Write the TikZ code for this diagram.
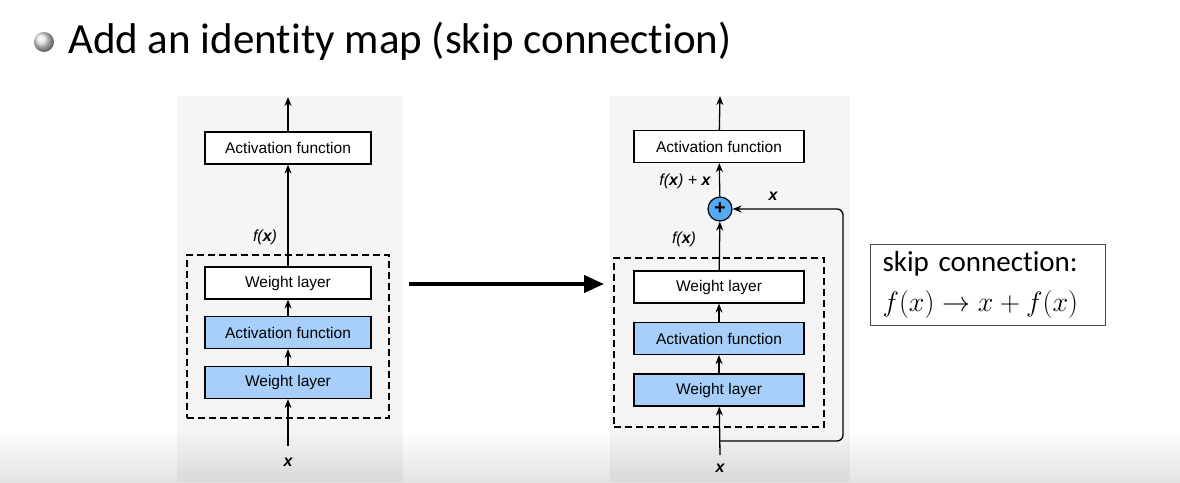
\RequirePackage{fix-cm}
\documentclass[tikz,border=0pt]{standalone}
\usepackage[no-math]{fontspec}
\usepackage{amsmath}
\setmainfont{Liberation Sans}
\newfontfamily\slidefont[Ligatures=CommonOff]{Carlito}
\usetikzlibrary{arrows.meta}
\definecolor{layer-blue}{HTML}{A7CFFA}
\definecolor{plus-blue}{HTML}{55AAF4}
\tikzset{
    layer-box/.style = {draw=black, fill=white, line width=1.2pt, rectangle, minimum width=166pt, minimum height=32pt, inner sep=0pt, font=\fontsize{15.5}{18}\selectfont},
    layer-box-blue/.style = {layer-box, fill=layer-blue},
    group-box/.style = {draw=black, dash pattern=on 7pt off 4pt, line width=1.2pt, rectangle, inner sep=0pt},
    flow/.style = {line width=1.3pt, -{Stealth[length=9pt,width=7pt]}},
    var-label/.style = {inner sep=1pt, font=\fontsize{16}{18}\selectfont\itshape},
    panel/.style = {fill=black, fill opacity=0.04},
}

\begin{document}
\begin{tikzpicture}[x=1pt, y=-1pt]
\useasboundingbox (0,0) rectangle (1180,482);
\fill[white] (0,0) rectangle (1180,482);
\shade[top color=white, bottom color=black!11] (0,430) rectangle (1180,482);
\fill[panel] (177,96) rectangle (403,482);
\fill[panel] (610,96) rectangle (850,482);

\shade[ball color=black!10] (44,42) circle (10pt);
\node[anchor=base west, inner sep=0pt, font=\slidefont\fontsize{43}{50}\selectfont] (title) at (68,53) {Add an identity map (skip connection)};

% plain block
\node[group-box, minimum width=202pt, minimum height=163pt] (dash-l) at (288,336.5) {};
\node[layer-box] (act-l) at (288,148) {Activation function};
\node[layer-box] (wt-l) at (288,283) {Weight layer};
\node[layer-box-blue] (af-l) at (288,332.5) {Activation function};
\node[layer-box-blue] (wb-l) at (288,382.5) {Weight layer};
\coordinate (in-l) at (288,446);
\coordinate (out-l) at (288,97);
\node[var-label] (x-l) at (288,462) {\textbf{x}};
\node[var-label] (fx-l) at (265,237) {f(\textbf{x})};
\draw[flow] (in-l) -- (wb-l);
\draw[flow] (wb-l) -- (af-l);
\draw[flow] (af-l) -- (wt-l);
\draw[flow] (wt-l) -- (act-l);
\draw[flow] (act-l) -- (out-l);

% residual block
\node[group-box, minimum width=210pt, minimum height=169pt] (dash-r) at (719,342.5) {};
\node[layer-box, minimum width=170pt] (act-r) at (719,146.5) {Activation function};
\node[circle, draw=black, line width=1.2pt, fill=plus-blue, minimum size=24pt, inner sep=0pt, font=\fontsize{20}{20}\selectfont\bfseries] (plus) at (720,209) {+};
\node[layer-box, minimum width=170pt] (wt-r) at (719,287) {Weight layer};
\node[layer-box-blue, minimum width=170pt] (af-r) at (719,338.5) {Activation function};
\node[layer-box-blue, minimum width=170pt] (wb-r) at (719,390) {Weight layer};
\coordinate (in-r) at (720,455);
\coordinate (branch-r) at (720,441);
\coordinate (skip-r) at (843,209);
\coordinate (out-r) at (720,96);
\node[var-label] (x-r) at (720,468) {\textbf{x}};
\node[var-label] (fx-r) at (684,239) {f(\textbf{x})};
\node[var-label] (sum-r) at (685,181) {f(\textbf{x}) + \textbf{x}};
\node[var-label] (id-r) at (773,196) {\textbf{x}};
\draw[flow] (in-r) -- (wb-r);
\draw[flow] (wb-r) -- (af-r);
\draw[flow] (af-r) -- (wt-r);
\draw[flow] (wt-r) -- (plus);
\draw[flow] (plus) -- (act-r);
\draw[flow] (act-r) -- (out-r);
\draw[flow, rounded corners=6pt] (branch-r) -- (branch-r -| skip-r) -- (skip-r) -- (plus.east);

\coordinate (from-l) at (409,284);
\coordinate (to-r) at (604,284);
\draw[line width=4pt, -{Triangle[length=20pt,width=17pt]}] (from-l) -- (to-r);

\node[draw=black!70, line width=1pt, anchor=north west, minimum width=235pt, minimum height=81pt, text width=211pt, inner xsep=12pt, align=left, font=\slidefont\fontsize{29}{40}\selectfont] (skip-note) at (870,244) {skip connection:\\{\fontsize{28}{40}\selectfont $f(x) \to x + f(x)$}};
\end{tikzpicture}
\end{document}
